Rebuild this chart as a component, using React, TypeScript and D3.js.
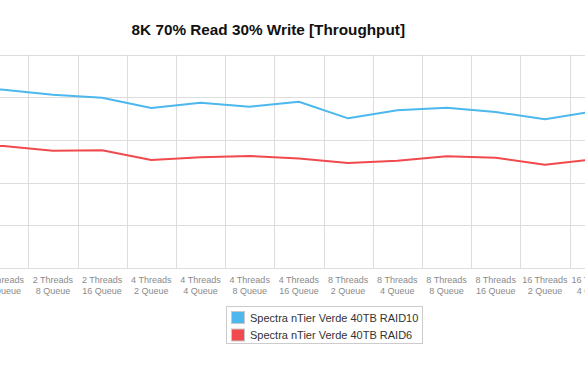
import React from "react";
import * as d3 from "d3";

const categories: string[] = [
  "2 Threads|2 Queue", "2 Threads|4 Queue", "2 Threads|8 Queue", "2 Threads|16 Queue",
  "4 Threads|2 Queue", "4 Threads|4 Queue", "4 Threads|8 Queue", "4 Threads|16 Queue",
  "8 Threads|2 Queue", "8 Threads|4 Queue", "8 Threads|8 Queue", "8 Threads|16 Queue",
  "16 Threads|2 Queue", "16 Threads|4 Queue",
];

const raid10: number[] = [210, 209, 203, 199.6, 187.5, 193.7, 189, 194.9, 175.4, 184.8, 187.9, 182.8, 174.3, 183.8];
const raid6: number[] = [143.5, 143, 137.5, 137.9, 126.6, 129.7, 131.3, 128.3, 123.1, 125.8, 130.9, 129.3, 121.1, 127.4];

const yTicks: number[] = [0, 50, 100, 150, 200, 250];

const seriesNames = ["Spectra nTier Verde 40TB RAID10", "Spectra nTier Verde 40TB RAID6"];
const seriesColors = ["#4db8ed", "#f04a4e"];
const title = "8K 70% Read 30% Write [Throughput]";

export default function App() {
  const W = 585, H = 376;
  const step = 49.2;
  const firstCenter = 3.7 - step; // center of first category (off-screen)
  const x = d3
    .scaleBand<string>()
    .domain(categories)
    .range([firstCenter - step / 2, firstCenter - step / 2 + step * categories.length])
    .padding(0);
  const y = d3.scaleLinear().domain([0, 250]).range([268, 54.7]);
  const cx = (c: string) => (x(c) as number) + x.bandwidth() / 2;

  const line = d3
    .line<number>()
    .x((_, i) => cx(categories[i]))
    .y((d) => y(d))
    .curve(d3.curveLinear);

  const grid = "#dddddd";
  const boundaries = categories.map((c) => x(c) as number).concat([(x(categories[categories.length - 1]) as number) + step]);

  return (
    <svg width={W} height={H} style={{ position: "absolute", left: 0, top: 0, background: "#fff" }}
      fontFamily="'Liberation Sans', Arial, Helvetica, sans-serif">
      <text x={268.3} y={35} textAnchor="middle" fontSize={15.3} fontWeight="bold" fill="#111">{title}</text>
      {yTicks.map((t) => (
        <line key={"h" + t} x1={0} x2={W} y1={Math.round(y(t)) + 0.5} y2={Math.round(y(t)) + 0.5} stroke={grid} strokeWidth={1} />
      ))}
      {boundaries.map((b, i) => (
        <line key={"v" + i} x1={Math.round(b) + 0.5} x2={Math.round(b) + 0.5} y1={y(250)} y2={y(0)} stroke={grid} strokeWidth={1} />
      ))}
      {[raid10, raid6].map((s, i) => (
        <path key={"s" + i} d={line(s) || ""} fill="none" stroke={seriesColors[i]} strokeWidth={2} strokeLinejoin="round" />
      ))}
      {categories.map((c) => {
        const [a, b] = c.split("|");
        return (
          <text key={"l" + c} x={cx(c)} textAnchor="middle" fontSize={9} fill="#8a8a8a">
            <tspan x={cx(c)} y={283}>{a}</tspan>
            <tspan x={cx(c)} y={293.5}>{b}</tspan>
          </text>
        );
      })}
      <rect x={226.5} y={306.5} width={196} height={37} fill="#fff" stroke="#cccccc" />
      {seriesNames.map((n, i) => (
        <g key={"lg" + i}>
          <rect x={231.5} y={311.5 + i * 17.5} width={13} height={12} fill={seriesColors[i]} stroke="#c8c8c8" />
          <text x={250} y={321.5 + i * 17.2} fontSize={11} fill="#333">{n}</text>
        </g>
      ))}
    </svg>
  );
}
